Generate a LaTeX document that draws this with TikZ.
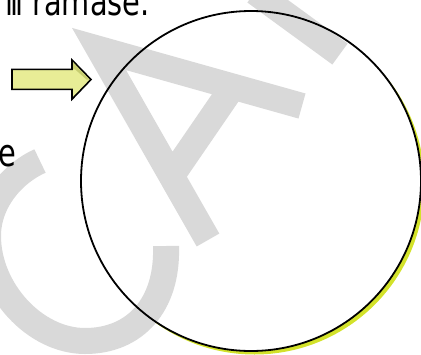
\documentclass[tikz,border=0pt]{standalone}
\usepackage{fontspec}
\setmainfont{DejaVu Sans}[FakeStretch=0.76]
\definecolor{wmgray}{RGB}{217,217,217}
\definecolor{arrowfill}{RGB}{232,237,150}
\definecolor{arrowshade}{RGB}{198,204,112}
\definecolor{shadowgreen}{RGB}{211,226,42}

\begin{document}
\begin{tikzpicture}[x=1pt, y=-1pt,
	txt/.style = {inner sep=0, font=\fontsize{38}{44}\selectfont},
	disc/.style = {circle, inner sep=0, minimum size=340pt},
	wm/.style = {draw=wmgray, line width=26pt, line join=miter},
	blockarrow/.style = {draw, fill=arrowfill, line width=1.6pt, line join=miter}]
	\useasboundingbox (0,0) rectangle (421,354);
	% circle with its shadow
	\node[disc, fill=shadowgreen] (ringshadow) at (254.5,184.5){};
	\node[disc, fill=white] (ring) at (251,181){};
	% watermark letters
	\draw[wm] (208,240) -- (99,49) -- (302,106)
		(232,88) -- (173,174)
		(255,-8) -- (340,54)
		(40,161) .. controls (15,172) and (-12,200) .. (-12,236)
		.. controls (-12,290) and (35,341) .. (85,341)
		.. controls (135,341) and (168,305) .. (166,246);
	\draw[line width=1.8pt] (ring.center) circle (170pt);
	% arrow
	\draw[blockarrow] (12,69.3) -- (72,69.3) -- (72,60) -- (91,79.5) -- (72,99.2) -- (72,89.3) -- (12,89.3) -- cycle;
	\fill[arrowshade] (73,62.2) -- (89.4,79.5) -- (86.5,79.5) -- (75,69.3) -- (73,69.3) -- cycle;
	% text
	\node[txt, anchor=base east] (rest) at (150,15){i\kern-3pt i\kern-3pt i ramase.};
	\node[txt, anchor=base west] (e) at (-1.5,166){e};
\end{tikzpicture}
\end{document}
